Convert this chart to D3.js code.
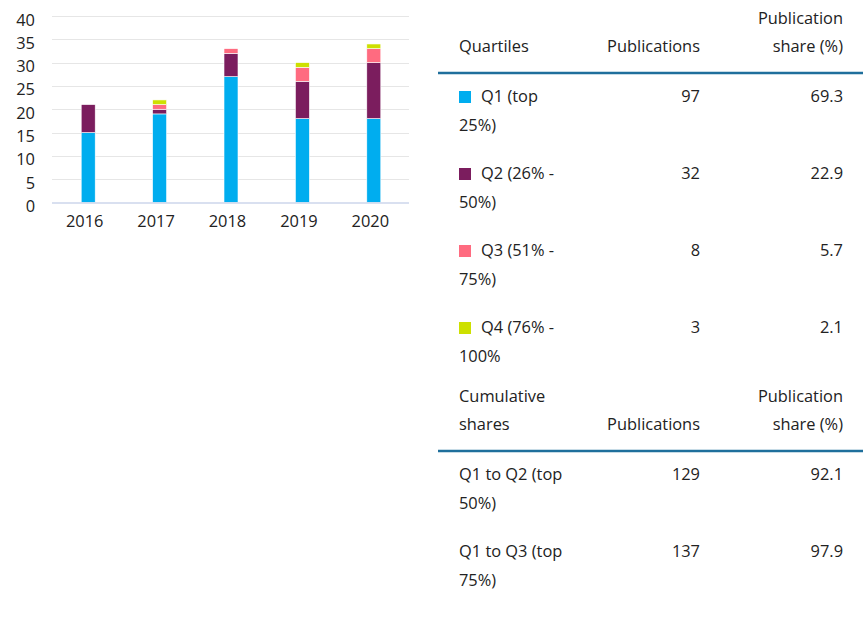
<!DOCTYPE html>
<html><head><meta charset="utf-8">
<script src="https://cdn.jsdelivr.net/npm/d3@7"></script>
<style>
body{margin:0;background:#fff;}
text{font-family:"Open Sans",Lato,sans-serif;fill:#222;}
</style></head>
<body><svg id="c" width="867" height="633"></svg>
<script>
const years = ["2016","2017","2018","2019","2020"];
const seriesNames = ["Q1","Q2","Q3","Q4"];
const q1 = [15,19,27,18,18];
const q2 = [6,1,5,8,12];
const q3 = [0,1,1,3,3];
const q4 = [0,1,0,1,1];
const colors = ["#00adef","#7b1d5e","#ff6b80","#cde000"];
const yTicks = [0,5,10,15,20,25,30,35,40];

const quartileLabels = [["Q1 (top","25%)"],["Q2 (26% -","50%)"],["Q3 (51% -","75%)"],["Q4 (76% -","100%"]];
const quartilePubs = ["97","32","8","3"];
const quartileShares = ["69.3","22.9","5.7","2.1"];
const cumLabels = [["Q1 to Q2 (top","50%)"],["Q1 to Q3 (top","75%)"]];
const cumPubs = ["129","137"];
const cumShares = ["92.1","97.9"];
const header1 = [["Quartiles"],["Publications"],["Publication","share (%)"]];
const header2 = [["Cumulative","shares"],["Publications"],["Publication","share (%)"]];

const FS = "16.4px";
const svg = d3.select("#c");
const x = d3.scaleBand().domain(years).range([52,409]).paddingInner(0).paddingOuter(0);
const y = d3.scaleLinear().domain([0,40]).range([202.5,16]);

svg.append("g").selectAll("line").data(yTicks.filter(d=>d>0)).join("line")
  .attr("x1",52).attr("x2",409).attr("y1",d=>Math.round(y(d))+0.5).attr("y2",d=>Math.round(y(d))+0.5)
  .attr("stroke","#e6e6e6").attr("stroke-width",1);
svg.append("g").selectAll("text").data(yTicks).join("text")
  .attr("x",35).attr("y",d=>y(d)+3).attr("text-anchor","end").attr("dominant-baseline","central")
  .style("font-size",FS).text(d=>d);

const rows = years.map((yr,i)=>({year:yr,Q1:q1[i],Q2:q2[i],Q3:q3[i],Q4:q4[i]}));
const stack = d3.stack().keys(seriesNames)(rows);
const bw = 14;
svg.append("g").selectAll("g").data(stack).join("g").attr("fill",(d,i)=>colors[i])
  .selectAll("rect").data(d=>d.filter(s=>s[1]-s[0]>0)).join("rect")
  .attr("x",d=>x(d.data.year)+x.bandwidth()/2-bw/2+0.5).attr("width",bw)
  .attr("y",d=>y(d[1])).attr("height",d=>y(d[0])-y(d[1]))
  .attr("stroke","#fff").attr("stroke-width",0.6);

svg.append("line").attr("x1",52).attr("x2",409).attr("y1",203).attr("y2",203)
  .attr("stroke","#ccd6eb").attr("stroke-width",1.5);
svg.append("g").selectAll("text").data(years).join("text")
  .attr("x",d=>x(d)+x.bandwidth()/2-3).attr("y",227).attr("text-anchor","middle")
  .style("font-size",FS).text(d=>d);

const T = svg.append("g").style("font-size",FS);
const colX = [459, 700, 843];
const anchors = ["start","end","end"];
function header(h, baseBottom){
  h.forEach((lines,ci)=>{
    lines.forEach((ln,li)=>{
      T.append("text").attr("x",colX[ci]).attr("y",baseBottom-(lines.length-1-li)*28.5)
        .attr("text-anchor",anchors[ci]).text(ln);
    });
  });
}
header(header1, 52);
T.append("line").attr("x1",438).attr("x2",863).attr("y1",73).attr("y2",73).attr("stroke","#1f6f9c").attr("stroke-width",2.5);
quartileLabels.forEach((lab,i)=>{
  const b = 102 + i*77;
  T.append("rect").attr("x",459).attr("y",b-11).attr("width",12).attr("height",12).attr("fill",colors[i]);
  T.append("text").attr("x",481).attr("y",b).text(lab[0]);
  T.append("text").attr("x",459).attr("y",b+29).text(lab[1]);
  T.append("text").attr("x",colX[1]).attr("y",b).attr("text-anchor","end").text(quartilePubs[i]);
  T.append("text").attr("x",colX[2]).attr("y",b).attr("text-anchor","end").text(quartileShares[i]);
});
header(header2, 430);
T.append("line").attr("x1",438).attr("x2",863).attr("y1",451).attr("y2",451).attr("stroke","#1f6f9c").attr("stroke-width",2.5);
cumLabels.forEach((lab,i)=>{
  const b = 480 + i*77;
  T.append("text").attr("x",459).attr("y",b).text(lab[0]);
  T.append("text").attr("x",459).attr("y",b+29).text(lab[1]);
  T.append("text").attr("x",colX[1]).attr("y",b).attr("text-anchor","end").text(cumPubs[i]);
  T.append("text").attr("x",colX[2]).attr("y",b).attr("text-anchor","end").text(cumShares[i]);
});
</script></body></html>
